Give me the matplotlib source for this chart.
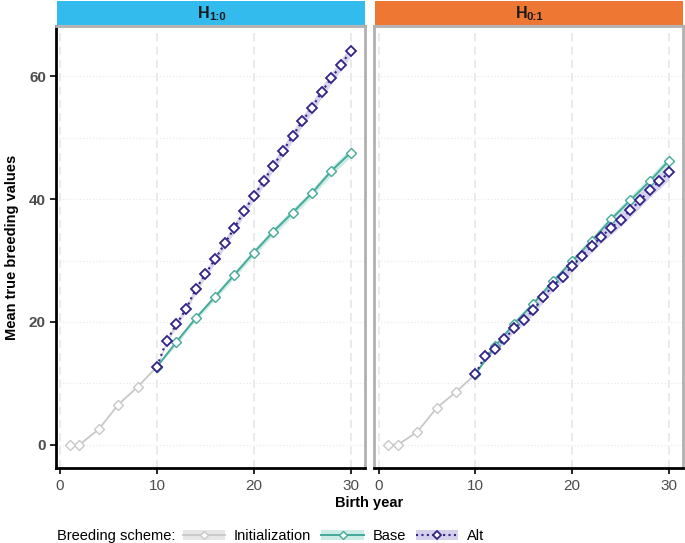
import matplotlib
matplotlib.use("Agg")
import matplotlib.pyplot as plt
from matplotlib.lines import Line2D
from matplotlib.patches import Patch

# ---------------- data ----------------
panels = ["H10", "H01"]
strip_main = ["H", "H"]
strip_sub = ["1:0", "0:1"]
strip_colors = ["#33BBEE", "#EE7733"]

years_init = [1, 2, 4, 6, 8, 10]
h10_init = [0.0, 0.0, 2.5, 6.5, 9.4, 12.7]
h01_init = [0.0, 0.0, 2.1, 6.0, 8.6, 11.5]

years_base = [10, 12, 14, 16, 18, 20, 22, 24, 26, 28, 30]
h10_base = [12.7, 16.7, 20.6, 24.1, 27.7, 31.3, 34.7, 37.8, 41.0, 44.6, 47.6]
h01_base = [11.5, 16.0, 19.7, 23.0, 26.6, 29.9, 33.2, 36.7, 39.8, 42.9, 46.3]
h10_base_se = [0.1, 0.4, 0.4, 0.5, 0.5, 0.5, 0.6, 0.6, 0.6, 0.7, 0.7]
h01_base_se = [0.1, 0.4, 0.5, 0.5, 0.5, 0.6, 0.6, 0.6, 0.7, 0.7, 0.8]

years_alt = list(range(10, 31))
h10_alt = [12.7, 16.9, 19.6, 22.1, 25.3, 27.8, 30.2, 32.8, 35.3, 38.1, 40.5,
           42.9, 45.4, 47.8, 50.3, 52.7, 54.9, 57.5, 59.7, 61.9, 64.2]
h01_alt = [11.5, 14.5, 15.6, 17.2, 19.0, 20.3, 22.0, 24.0, 25.9, 27.4, 29.1,
           30.8, 32.3, 33.9, 35.3, 36.6, 38.2, 39.8, 41.5, 42.9, 44.4]
h10_alt_se = [0.1, 0.4, 0.5, 0.5, 0.6, 0.6, 0.6, 0.7, 0.7, 0.7, 0.7,
              0.8, 0.8, 0.8, 0.8, 0.8, 0.9, 0.9, 0.9, 0.9, 0.9]
h01_alt_se = [0.1, 0.4, 0.5, 0.6, 0.6, 0.7, 0.7, 0.8, 0.8, 0.8, 0.9,
              0.9, 1.0, 1.0, 1.1, 1.1, 1.1, 1.2, 1.2, 1.2, 1.2]

init_vals = {"H10": h10_init, "H01": h01_init}
base_vals = {"H10": h10_base, "H01": h01_base}
base_se = {"H10": h10_base_se, "H01": h01_base_se}
alt_vals = {"H10": h10_alt, "H01": h01_alt}
alt_se = {"H10": h10_alt_se, "H01": h01_alt_se}

xticks = [0, 10, 20, 30]
yticks = [0, 20, 40, 60]
legend_labels = ["Initialization", "Base", "Alt"]

# ---------------- style ----------------
C_INIT = "#C8C8C8"
C_BASE = "#44AA99"
C_ALT = "#332288"
F_INIT = "#E6E6E6"
F_BASE = "#CDEBE5"
F_ALT = "#D4CFEA"
GRID = "#E6E6E6"
BORDER = "#B0B0B0"
TICKLAB = "#4D4D4D"

W, H = 685, 543
fig = plt.figure(figsize=(W / 100, H / 100), dpi=100)
plt.rcParams["font.family"] = ["DejaVu Sans"]
FONT = "Liberation Sans"

def fx(px):
    return px / W

def fy(py):
    return 1 - py / H

panel_px = [(55.6, 364.8), (374.3, 683.0)]
strip_h_px = [198.0, 516.0]
top_px, bot_px = 25.5, 468.0
xlim = (-0.45, 31.45)
ylim = (-3.8, 68.3)

for i, p in enumerate(panels):
    x0, x1 = panel_px[i]
    ax = fig.add_axes([fx(x0), fy(bot_px), fx(x1 - x0), (bot_px - top_px) / H])
    ax.set_xlim(*xlim)
    ax.set_ylim(*ylim)
    # grid
    for xv in xticks:
        ax.axvline(xv, color=GRID, lw=1.2, ls=(0, (5, 3)), zorder=0)
    for yv in range(0, 70, 10):
        ax.axhline(yv, color=GRID, lw=0.8, ls=(0, (1, 2)), zorder=0)

    # Initialization
    ax.plot(years_init, init_vals[p], color=C_INIT, lw=1.3, marker="D",
            ms=4.8, mfc="white", mec=C_INIT, mew=1.0, zorder=3)
    # Base
    lo = [v - s for v, s in zip(base_vals[p], base_se[p])]
    hi = [v + s for v, s in zip(base_vals[p], base_se[p])]
    ax.fill_between(years_base, lo, hi, color=F_BASE, lw=0, zorder=2)
    ax.plot(years_base, base_vals[p], color=C_BASE, lw=1.4, marker="D",
            ms=4.8, mfc="white", mec=C_BASE, mew=1.0, zorder=4)
    # Alt
    lo = [v - s for v, s in zip(alt_vals[p], alt_se[p])]
    hi = [v + s for v, s in zip(alt_vals[p], alt_se[p])]
    ax.fill_between(years_alt, lo, hi, color=F_ALT, lw=0, alpha=0.9, zorder=2)
    ax.plot(years_alt, alt_vals[p], color=C_ALT, lw=1.5, ls=(0, (1, 1.8)),
            marker="D", ms=4.8, mfc="white", mec=C_ALT, mew=1.3, zorder=5)

    # spines
    for s in ["top", "right", "left", "bottom"]:
        ax.spines[s].set_color(BORDER)
        ax.spines[s].set_linewidth(2.0)
    ax.spines["bottom"].set_color("black")
    if i == 0:
        ax.spines["left"].set_color("black")

    ax.set_xticks(xticks)
    ax.set_xticklabels([str(t) for t in xticks], fontsize=11, color=TICKLAB,
                       family=FONT)
    ax.tick_params(axis="x", length=4, width=1.2, color="black", pad=4)
    if i == 0:
        ax.set_yticks(yticks)
        ax.set_yticklabels([str(t) for t in yticks], fontsize=11,
                           color=TICKLAB, fontweight="bold", family=FONT)
        ax.tick_params(axis="y", length=4, width=1.2, color="black", pad=3)
    else:
        ax.set_yticks(yticks)
        ax.tick_params(axis="y", length=0, labelleft=False)

    # strip
    sax = fig.add_axes([fx(x0 + 1), fy(24.5), fx(x1 - x0 - 1), 23.5 / H])
    sax.set_xticks([])
    sax.set_yticks([])
    sax.set_facecolor(strip_colors[i])
    for s in sax.spines.values():
        s.set_visible(False)
    hx = strip_h_px[i]
    fig.text(fx(hx), fy(17.5), strip_main[i], ha="left", va="baseline",
             fontsize=11.5, fontweight="bold", color="#1A1A1A", family=FONT)
    fig.text(fx(hx + 10.8), fy(20.5), strip_sub[i], ha="left", va="baseline",
             fontsize=8.2, fontweight="bold", color="#1A1A1A", family=FONT)

# axis titles
fig.text(fx(12), fy(247), "Mean true breeding values", rotation=90,
         ha="center", va="center", fontsize=10.5, fontweight="bold",
         family=FONT)
fig.text(fx(369), fy(503), "Birth year", ha="center", va="center",
         fontsize=10.5, fontweight="bold", family=FONT)

# legend
fig.text(fx(57), fy(536), "Breeding scheme:", ha="left", va="center",
         fontsize=10.5, family=FONT)
handles = [
    (Patch(facecolor=F_INIT, edgecolor="none"),
     Line2D([], [], color=C_INIT, lw=1.3, marker="D", ms=4, mfc="white",
            mec=C_INIT)),
    (Patch(facecolor=F_BASE, edgecolor="none"),
     Line2D([], [], color=C_BASE, lw=1.4, marker="D", ms=4, mfc="white",
            mec=C_BASE)),
    (Patch(facecolor=F_ALT, edgecolor="none"),
     Line2D([], [], color=C_ALT, lw=1.5, ls=(0, (1, 1.6)), marker="D", ms=4,
            mfc="white", mec=C_ALT, mew=1.3)),
]
fig.legend(handles, legend_labels, loc="center left",
           bbox_to_anchor=(fx(180), fy(536)), ncol=3, frameon=False,
           prop={"family": FONT, "size": 10.5}, handlelength=2.9,
           handleheight=0.7, handletextpad=0.6, columnspacing=0.7,
           borderpad=0.2, borderaxespad=0)

fig.savefig("out.png", dpi=100)
